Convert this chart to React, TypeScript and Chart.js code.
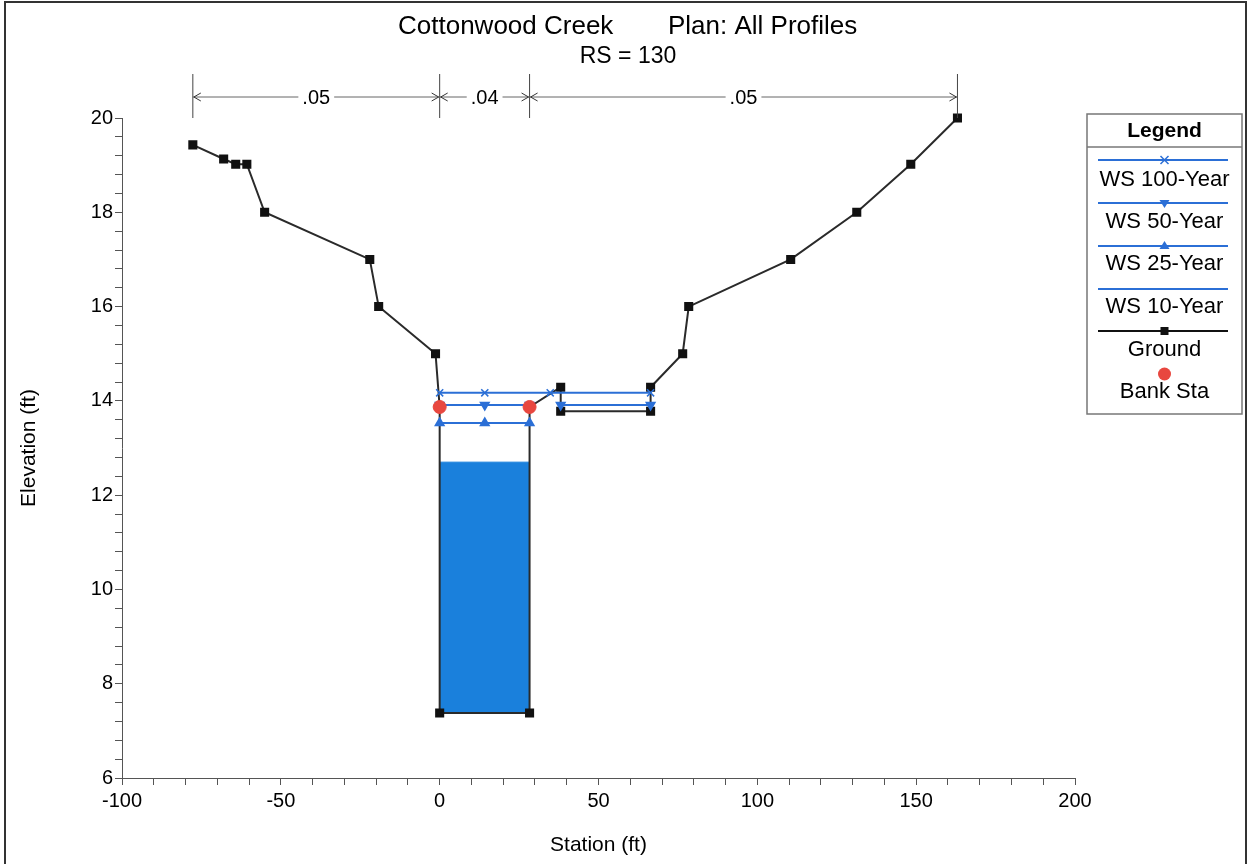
import React, { useEffect, useRef } from 'react';
import { Chart, registerables } from 'chart.js';

Chart.register(...registerables);

const FONT = '"Liberation Sans", Arial, Helvetica, sans-serif';

// ---- Data ----
const titleLeft = 'Cottonwood Creek';
const titleRight = 'Plan: All Profiles';
const subtitle = 'RS = 130';

const groundStation = [-77.7, -68.0, -64.2, -60.7, -55.1, -22.0, -19.2, -1.3, 0, 0, 28.3, 28.3, 38.1, 38.1, 66.4, 66.4, 76.5, 78.4, 110.5, 131.3, 148.3, 163.0];
const groundElev = [19.43, 19.13, 19.02, 19.02, 18.0, 17.0, 16.0, 15.0, 13.87, 7.38, 7.38, 13.87, 14.29, 13.78, 13.78, 14.29, 15.0, 16.0, 17.0, 18.0, 19.02, 20.0];

const ws100Station = [0, 14.2, 34.8, 66.4];
const ws100Elev = [14.17, 14.17, 14.17, 14.17];

const ws50Station = [0, 14.2, 28.3, 33.0, 38.1, 66.4];
const ws50Elev = [13.91, 13.91, 13.91, null, 13.91, 13.91];

const ws25Station = [0, 14.2, 28.3];
const ws25Elev = [13.53, 13.53, 13.53];

const ws10Station = [0, 28.3];
const ws10Elev = [12.7, 12.7];
const channelInvert = 7.38;

const bankStation = [0, 28.3];
const bankElev = [13.87, 13.87];

const nStations = [-77.7, 0, 28.3, 163.0];
const nLabels = ['.05', '.04', '.05'];

const xTickValues: number[] = [];
for (let v = -100; v <= 200; v += 10) xTickValues.push(v);
const xTickLabels = [-100, -50, 0, 50, 100, 150, 200];

const yTickValues: number[] = [];
for (let i = 0; i <= 35; i++) yTickValues.push(+(6 + 0.4 * i).toFixed(1));
const yTickLabels = [6, 8, 10, 12, 14, 16, 18, 20];

const legendLabels = ['WS 100-Year', 'WS 50-Year', 'WS 25-Year', 'WS 10-Year', 'Ground', 'Bank Sta'];

const WS_BLUE = '#2b6fd6';
const FILL_BLUE = '#1a80dc';
const GROUND = '#2a2a2a';
const BANK_RED = '#e8473f';

const pts = (xs: number[], ys: (number | null)[]) => xs.map((x, i) => ({ x, y: ys[i] }));

function drawMarker(ctx: CanvasRenderingContext2D, kind: string, x: number, y: number) {
  ctx.save();
  if (kind === 'cross') {
    ctx.strokeStyle = WS_BLUE; ctx.lineWidth = 1.5;
    ctx.beginPath();
    ctx.moveTo(x - 4, y - 4); ctx.lineTo(x + 4, y + 4);
    ctx.moveTo(x + 4, y - 4); ctx.lineTo(x - 4, y + 4);
    ctx.stroke();
  } else if (kind === 'down') {
    ctx.fillStyle = WS_BLUE;
    ctx.beginPath(); ctx.moveTo(x - 5, y - 3); ctx.lineTo(x + 5, y - 3); ctx.lineTo(x, y + 5); ctx.closePath(); ctx.fill();
  } else if (kind === 'up') {
    ctx.fillStyle = WS_BLUE;
    ctx.beginPath(); ctx.moveTo(x - 5, y + 3); ctx.lineTo(x + 5, y + 3); ctx.lineTo(x, y - 5); ctx.closePath(); ctx.fill();
  } else if (kind === 'square') {
    ctx.fillStyle = '#111';
    ctx.fillRect(x - 4, y - 4, 8, 8);
  } else if (kind === 'circle') {
    ctx.fillStyle = BANK_RED;
    ctx.beginPath(); ctx.arc(x, y, 6.5, 0, Math.PI * 2); ctx.fill();
  }
  ctx.restore();
}

const decorPlugin = {
  id: 'decor',
  beforeDraw(chart: any) {
    const ctx = chart.ctx;
    ctx.save();
    ctx.fillStyle = '#fff';
    ctx.fillRect(0, 0, chart.width, chart.height);
    ctx.restore();
  },
  afterDraw(chart: any) {
    const { ctx, chartArea } = chart;
    const xs = chart.scales.x;
    ctx.save();
    // frame
    ctx.strokeStyle = '#333';
    ctx.lineWidth = 2;
    ctx.beginPath();
    ctx.moveTo(5, 880); ctx.lineTo(5, 2); ctx.lineTo(1246, 2); ctx.lineTo(1246, 880);
    ctx.stroke();

    // titles
    ctx.fillStyle = '#000';
    ctx.textBaseline = 'middle';
    ctx.textAlign = 'left';
    ctx.font = `26px ${FONT}`;
    ctx.fillText(titleLeft, 398, 27);
    ctx.fillText(titleRight, 668, 27);
    ctx.textAlign = 'center';
    ctx.font = `23px ${FONT}`;
    ctx.fillText(subtitle, 628, 57);

    // Manning's n dimension lines
    const yDim = 97;
    const yTop = 74;
    const px = nStations.map((s) => xs.getPixelForValue(s));
    ctx.strokeStyle = '#444';
    ctx.lineWidth = 1;
    px.forEach((p) => {
      ctx.beginPath(); ctx.moveTo(p, yTop); ctx.lineTo(p, chartArea.top); ctx.stroke();
    });
    ctx.font = `20px ${FONT}`;
    for (let i = 0; i < nLabels.length; i++) {
      const a = px[i], b = px[i + 1];
      ctx.strokeStyle = '#666';
      ctx.beginPath(); ctx.moveTo(a, yDim); ctx.lineTo(b, yDim); ctx.stroke();
      ctx.strokeStyle = '#333';
      ctx.beginPath();
      ctx.moveTo(a + 8, yDim - 4); ctx.lineTo(a + 1, yDim); ctx.lineTo(a + 8, yDim + 4);
      ctx.moveTo(b - 8, yDim - 4); ctx.lineTo(b - 1, yDim); ctx.lineTo(b - 8, yDim + 4);
      ctx.stroke();
      const mid = (a + b) / 2;
      const w = ctx.measureText(nLabels[i]).width;
      ctx.fillStyle = '#fff';
      ctx.fillRect(mid - w / 2 - 4, yDim - 10, w + 8, 20);
      ctx.fillStyle = '#000';
      ctx.textAlign = 'center';
      ctx.fillText(nLabels[i], mid, yDim + 1);
    }

    // legend box
    const L = 1087, T = 114, R = 1242, B = 414;
    ctx.strokeStyle = '#777';
    ctx.lineWidth = 1.5;
    ctx.strokeRect(L, T, R - L, B - T);
    ctx.beginPath(); ctx.moveTo(L, 147); ctx.lineTo(R, 147); ctx.stroke();
    const cx = (L + R) / 2;
    ctx.fillStyle = '#000';
    ctx.textAlign = 'center';
    ctx.font = `bold 21px ${FONT}`;
    ctx.fillText('Legend', cx, 131);
    ctx.font = `22px ${FONT}`;
    const lineYs = [160, 203, 246, 289, 331, 374];
    const textYs = [180, 222, 264, 307, 350, 392];
    const markers = ['cross', 'down', 'up', '', 'square', 'circle'];
    for (let i = 0; i < legendLabels.length; i++) {
      const ly = lineYs[i];
      if (i < 5) {
        ctx.strokeStyle = i === 4 ? '#111' : WS_BLUE;
        ctx.lineWidth = 2;
        ctx.beginPath(); ctx.moveTo(1098, ly); ctx.lineTo(1228, ly); ctx.stroke();
      }
      if (markers[i]) drawMarker(ctx, markers[i], cx, ly);
      ctx.fillStyle = '#000';
      ctx.fillText(legendLabels[i], cx, textYs[i]);
    }
    ctx.restore();
  },
};

export default function App() {
  const ref = useRef<HTMLCanvasElement>(null);
  useEffect(() => {
    if (!ref.current) return;
    const chart = new Chart(ref.current, {
      type: 'line',
      data: {
        datasets: [
          {
            label: 'Bank Sta',
            data: pts(bankStation, bankElev),
            showLine: false,
            pointStyle: 'circle',
            pointRadius: 6.5,
            pointBackgroundColor: BANK_RED,
            pointBorderColor: BANK_RED,
            clip: false,
            order: 0,
          },
          {
            label: 'WS 100-Year',
            data: pts(ws100Station, ws100Elev),
            borderColor: WS_BLUE,
            borderWidth: 2,
            pointStyle: 'crossRot',
            pointRadius: 5,
            pointBorderColor: WS_BLUE,
            pointBorderWidth: 1.5,
            order: 1,
          },
          {
            label: 'WS 50-Year',
            data: pts(ws50Station, ws50Elev),
            borderColor: WS_BLUE,
            borderWidth: 2,
            spanGaps: false,
            pointStyle: 'triangle',
            rotation: 180,
            pointRadius: 4.5,
            pointBackgroundColor: WS_BLUE,
            pointBorderColor: WS_BLUE,
            order: 2,
          },
          {
            label: 'WS 25-Year',
            data: pts(ws25Station, ws25Elev),
            borderColor: WS_BLUE,
            borderWidth: 2,
            pointStyle: 'triangle',
            pointRadius: 4.5,
            pointBackgroundColor: WS_BLUE,
            pointBorderColor: WS_BLUE,
            order: 3,
          },
          {
            label: 'Ground',
            data: pts(groundStation, groundElev),
            borderColor: GROUND,
            borderWidth: 2,
            pointStyle: 'rect',
            pointRadius: 5,
            pointBackgroundColor: '#111',
            pointBorderColor: '#111',
            clip: false,
            order: 4,
          },
          {
            label: 'WS 10-Year',
            data: pts(ws10Station, ws10Elev),
            borderColor: FILL_BLUE,
            borderWidth: 1,
            pointRadius: 0,
            backgroundColor: FILL_BLUE,
            fill: { value: channelInvert },
            order: 5,
          },
        ],
      },
      options: {
        responsive: false,
        animation: false,
        parsing: false as any,
        normalized: true,
        layout: { padding: { left: 13, right: 174, top: 118, bottom: 2 } },
        plugins: {
          legend: { display: false },
          tooltip: { enabled: false },
          title: { display: false },
        },
        elements: { line: { tension: 0 } },
        scales: {
          x: {
            type: 'linear',
            min: -100,
            max: 200,
            afterBuildTicks: (s: any) => { s.ticks = xTickValues.map((v) => ({ value: v })); },
            afterFit: (s: any) => { s.height = 84; },
            ticks: {
              autoSkip: false,
              maxRotation: 0,
              padding: 4,
              color: '#000',
              font: { family: FONT, size: 20 },
              callback: (v: any) => (xTickLabels.includes(Number(v)) ? String(v) : ''),
            },
            grid: { drawOnChartArea: false, drawTicks: true, tickLength: 7, color: '#555' },
            border: { display: true, color: '#555', width: 1 },
            title: { display: true, text: 'Station (ft)', color: '#000', font: { family: FONT, size: 21 }, padding: { top: 4, bottom: 4 } },
          },
          y: {
            type: 'linear',
            min: 6,
            max: 20,
            afterBuildTicks: (s: any) => { s.ticks = yTickValues.map((v) => ({ value: v })); },
            afterFit: (s: any) => { s.width = 109; },
            ticks: {
              autoSkip: false,
              padding: 2,
              color: '#000',
              font: { family: FONT, size: 20 },
              callback: (v: any) => (yTickLabels.some((t) => Math.abs(t - Number(v)) < 1e-6) ? String(Math.round(Number(v))) : ''),
            },
            grid: { drawOnChartArea: false, drawTicks: true, tickLength: 7, color: '#555' },
            border: { display: true, color: '#555', width: 1 },
            title: { display: true, text: 'Elevation (ft)', color: '#000', font: { family: FONT, size: 21 }, padding: { top: 4, bottom: 4 } },
          },
        },
      } as any,
      plugins: [decorPlugin],
    });
    return () => chart.destroy();
  }, []);

  return (
    <div style={{ position: 'absolute', left: 0, top: 0, width: 1249, height: 864, background: '#fff' }}>
      <canvas ref={ref} width={1249} height={864} style={{ width: 1249, height: 864, display: 'block' }} />
    </div>
  );
}
